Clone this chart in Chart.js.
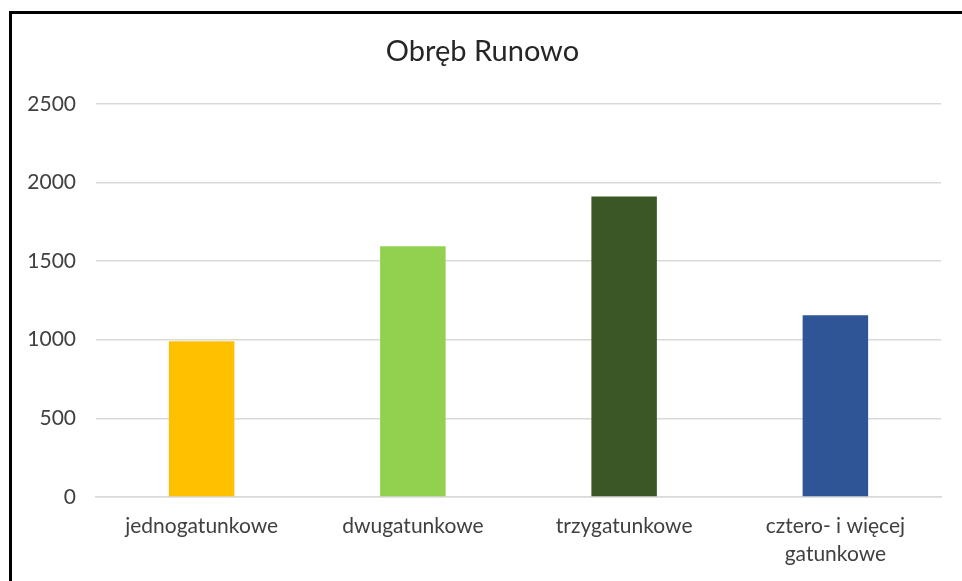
<!DOCTYPE html>
<html lang="pl">
<head>
    <meta charset="UTF-8">
    <title>Obręb Runowo</title>
    <script src="https://cdn.jsdelivr.net/npm/chart.js"></script>
    <style>
        html, body {
            margin: 0;
            padding: 0;
            background: #fff;
            overflow: hidden;
        }

        .frame {
            position: absolute;
            left: 9px;
            top: 11px;
            width: 1100px;
            height: 800px;
            border: 3px solid #000;
        }

        .chart-box {
            position: absolute;
            left: 0;
            top: 0;
            width: 962px;
            height: 581px;
        }
    </style>
</head>
<body>
<div class="frame"></div>
<div class="chart-box">
    <canvas id="runowoChart"></canvas>
</div>

<script>
    const kategorie = ['jednogatunkowe', 'dwugatunkowe', 'trzygatunkowe', ['cztero- i więcej', 'gatunkowe']];
    const wartosci = [990, 1595, 1910, 1155];
    const kolory = ['#ffc000', '#92d050', '#3b5725', '#2f5597'];
    const osY = {min: 0, max: 2500, step: 500};

    const fontName = 'Lato, "Open Sans", sans-serif';

    new Chart(document.getElementById('runowoChart'), {
        type: 'bar',
        data: {
            labels: kategorie,
            datasets: [{
                label: 'Obręb Runowo',
                data: wartosci,
                backgroundColor: kolory,
                barPercentage: 0.62,
                categoryPercentage: 0.5
            }]
        },
        options: {
            responsive: true,
            maintainAspectRatio: false,
            animation: false,
            layout: {
                padding: {left: 24, right: 21, top: 0, bottom: 0}
            },
            plugins: {
                legend: {display: false},
                tooltip: {enabled: false},
                title: {
                    display: true,
                    text: 'Obręb Runowo',
                    color: '#262626',
                    font: {family: fontName, size: 29, weight: 'normal'},
                    padding: {top: 34, bottom: 35}
                }
            },
            scales: {
                x: {
                    grid: {display: false, drawTicks: false},
                    border: {display: true, color: '#d9d9d9', width: 1.5},
                    ticks: {
                        color: '#404040',
                        padding: 15,
                        maxRotation: 0,
                        autoSkip: false,
                        font: {family: fontName, size: 21, lineHeight: 1.35}
                    },
                    afterFit: s => { s.height = 84; }
                },
                y: {
                    min: osY.min,
                    max: osY.max,
                    grid: {color: '#d9d9d9', lineWidth: 1.5, drawTicks: false},
                    border: {display: false},
                    ticks: {
                        stepSize: osY.step,
                        color: '#404040',
                        padding: 20,
                        font: {family: fontName, size: 21},
                        callback: v => String(v)
                    },
                    afterFit: s => { s.width = 72; }
                }
            }
        }
    });
</script>
</body>
</html>
